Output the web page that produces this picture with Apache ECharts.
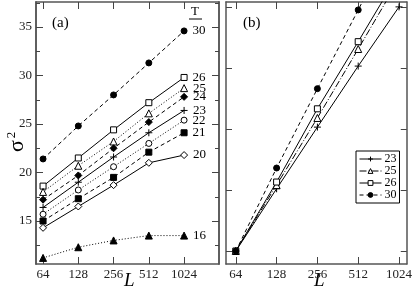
<!DOCTYPE html>
<html><head><meta charset="utf-8">
<script src="https://cdn.jsdelivr.net/npm/echarts@6/dist/echarts.min.js"></script>
<style>html,body{margin:0;padding:0;background:#fff}#c{width:415px;height:291px}</style>
</head><body><div id="c"></div>
<script>
const L = [64, 128, 256, 512, 1024];
const xTickLabels = ['64', '128', '256', '512', '1024'];
const yTicksA = [15, 20, 25, 30, 35];
const yMinorA = [12.5, 17.5, 22.5, 27.5, 32.5, 37.5];
// panel (a): sigma^2 vs L for each T
const a30 = [21.4, 24.8, 28.0, 31.3, 34.6];
const a26 = [18.6, 21.5, 24.4, 27.2, 29.8];
const a25 = [18.0, 20.7, 23.2, 26.1, 28.7];
const a24 = [17.2, 19.7, 22.5, 25.2, 27.8];
const a23 = [16.4, 19.0, 21.6, 24.1, 26.4];
const a22 = [15.7, 18.2, 20.6, 23.0, 25.4];
const a21 = [15.0, 17.3, 19.5, 22.1, 24.1];
const a20 = [14.3, 16.5, 18.7, 21.0, 21.8];
const a16 = [11.2, 12.3, 13.0, 13.5, 13.5];
// panel (b): scaled values (arbitrary units, tick spacing = 1)
const b23 = [0, 1.02, 2.03, 3.03, 4.00];
const b25 = [0, 1.08, 2.18, 3.31, 4.45];
const b26 = [0, 1.13, 2.33, 3.43, 4.55];
const b30 = [0, 1.36, 2.66, 3.95, 5.25];
const yTicksB = [0, 1, 2, 3, 4];

const FONT = 'Liberation Serif';
const lx = L.map(v => Math.log2(v));
const pts = arr => arr.map((v, i) => [lx[i], v]);
const PLUS = 'path://M5,0L5,10M0,5L10,5';
const DASH = [4, 3], DOT = [1, 2], DASHDOT = [7, 2, 1, 2];

function ser(name, label, arr, sym, size, empty, dash, xi, yi) {
  return {
    type: 'line', name: name, xAxisIndex: xi, yAxisIndex: yi,
    data: pts(arr), symbol: sym, symbolSize: size, showAllSymbol: true,
    lineStyle: {color: '#000', width: 1, type: dash},
    itemStyle: {color: empty ? '#fff' : '#000', borderColor: '#000', borderWidth: 1},
    label: label ? {show: true, position: 'right', distance: 5, color: '#000',
      fontFamily: FONT, fontSize: 13,
      formatter: p => p.dataIndex === L.length - 1 ? label : ''} : {show: false},
    emphasis: {disabled: true}, animation: false, z: 3
  };
}

const axisLineStyle = {lineStyle: {color: '#555', width: 1.5}};
const xBase = (gi, min, max, pos, labels) => ({
  type: 'value', gridIndex: gi, min: min, max: max, position: pos,
  axisLine: {show: true, onZero: false, ...axisLineStyle},
  axisTick: {show: true, inside: true, length: 7, customValues: lx, lineStyle: {color: '#444'}},
  axisLabel: labels ? {show: true, customValues: lx, margin: 4, color: '#222',
    fontFamily: FONT, fontSize: 13, formatter: v => xTickLabels[lx.findIndex(t => Math.abs(t - v) < 1e-6)]} : {show: false},
  splitLine: {show: false}
});
const yBase = (gi, min, max, pos, ticks, len, labels) => ({
  type: 'value', gridIndex: gi, min: min, max: max, position: pos,
  axisLine: {show: true, onZero: false, ...axisLineStyle},
  axisTick: {show: true, inside: true, length: len, customValues: ticks, lineStyle: {color: '#444'}},
  axisLabel: labels ? {show: true, customValues: ticks, margin: 4, color: '#222',
    fontFamily: FONT, fontSize: 13} : {show: false},
  splitLine: {show: false}
});

const xa0 = 5.80, xa1 = 10.99, ya0 = 10.57, ya1 = 37.58;
const xb0 = 5.76, xb1 = 10.19, yb0 = -0.213, yb1 = 4.08;

const option = {
  backgroundColor: '#fff',
  animation: false,
  grid: [
    {left: 36, right: 196, top: 2, bottom: 27},
    {left: 226, right: 5, top: 2, bottom: 27}
  ],
  xAxis: [
    xBase(0, xa0, xa1, 'bottom', true),
    xBase(0, xa0, xa1, 'top', false),
    xBase(1, xb0, xb1, 'bottom', true),
    xBase(1, xb0, xb1, 'top', false)
  ],
  yAxis: [
    yBase(0, ya0, ya1, 'left', yTicksA, 7, true),
    yBase(0, ya0, ya1, 'left', yMinorA, 4, false),
    yBase(0, ya0, ya1, 'right', yTicksA, 7, false),
    yBase(0, ya0, ya1, 'right', yMinorA, 4, false),
    yBase(1, yb0, yb1, 'left', yTicksB, 6, false),
    yBase(1, yb0, yb1, 'right', yTicksB, 6, false)
  ],
  legend: {
    left: 356, top: 151, orient: 'vertical', itemGap: 0, itemWidth: 22, itemHeight: 6,
    data: ['23', '25', '26', '30'], borderColor: '#000', borderWidth: 1, padding: [2, 3, 2, 3],
    textStyle: {fontFamily: FONT, fontSize: 12, lineHeight: 12, color: '#000', padding: [0, 0, 0, -2]},
    lineStyle: {width: 1},
    itemStyle: {borderWidth: 1},
    selectedMode: false
  },
  series: [
    ser('a30', '30', a30, 'circle', 6, false, DASH, 0, 0),
    ser('a26', '26', a26, 'rect', 6, true, 'solid', 0, 0),
    ser('a25', '25', a25, 'triangle', 7, true, DOT, 0, 0),
    ser('a24', '24', a24, 'diamond', 7, false, DASH, 0, 0),
    ser('a23', '23', a23, PLUS, 7, false, 'solid', 0, 0),
    ser('a22', '22', a22, 'circle', 6, true, DOT, 0, 0),
    ser('a21', '21', a21, 'rect', 6, false, DASH, 0, 0),
    ser('a20', '20', a20, 'diamond', 7, true, 'solid', 0, 0),
    ser('a16', '16', a16, 'triangle', 7, false, DOT, 0, 0),
    ser('23', null, b23, PLUS, 7, false, 'solid', 2, 4),
    ser('25', null, b25, 'triangle', 7, true, DASHDOT, 2, 4),
    ser('26', null, b26, 'rect', 6, true, 'solid', 2, 4),
    ser('30', null, b30, 'circle', 6, false, DASH, 2, 4)
  ],
  graphic: [
    {type: 'text', x: 52, y: 16, style: {text: '(a)', font: '15px "Liberation Serif"', fill: '#000'}},
    {type: 'text', x: 243, y: 16, style: {text: '(b)', font: '15px "Liberation Serif"', fill: '#000'}},
    {type: 'text', x: 191, y: 5, style: {text: 'T', font: '13px "Liberation Serif"', fill: '#000'}},
    {type: 'line', shape: {x1: 189, y1: 19, x2: 202, y2: 19}, style: {stroke: '#000', lineWidth: 1}},
    {type: 'text', x: 124, y: 271, style: {text: 'L', font: 'italic 19px "Liberation Serif"', fill: '#000'}},
    {type: 'text', x: 314, y: 271, style: {text: 'L', font: 'italic 19px "Liberation Serif"', fill: '#000'}},
    {type: 'text', x: 5, y: 152, rotation: Math.PI / 2,
      style: {text: '{s|σ}{p|2}', fill: '#000',
        rich: {s: {fontFamily: FONT, fontSize: 22, verticalAlign: 'bottom'},
               p: {fontFamily: FONT, fontSize: 13, verticalAlign: 'top', padding: [0, 0, 10, 2]}}}}
  ]
};
echarts.init(document.getElementById('c'), null, {renderer: 'canvas'}).setOption(option);
</script>
</body></html>
